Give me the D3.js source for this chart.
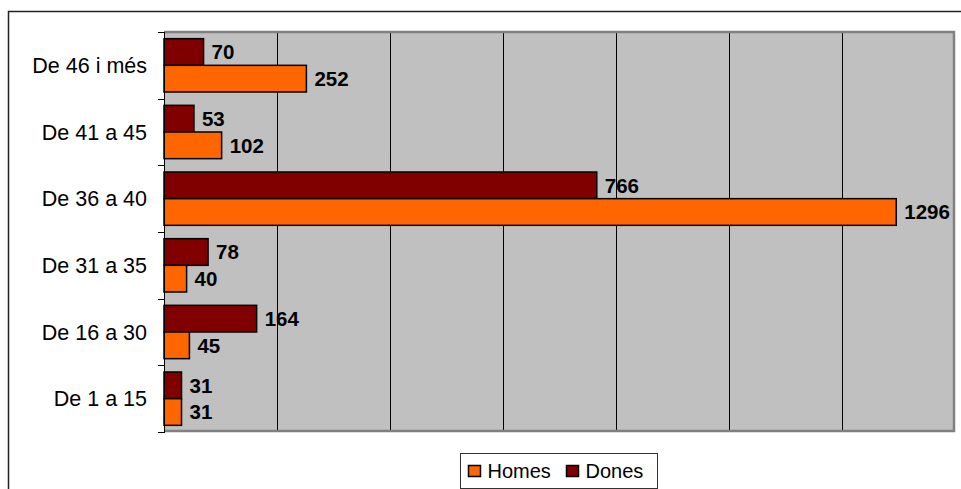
<!DOCTYPE html>
<html>
<head>
<meta charset="utf-8">
<script src="https://cdn.jsdelivr.net/npm/d3@7"></script>
<style>
  body { margin: 0; background: #fff; }
  svg { display: block; font-family: 'Liberation Sans', Arial, sans-serif; }
</style>
</head>
<body>
<svg class="chart"></svg>
<script>
// Age ranges, top to bottom as in the chart
const categories = ['De 46 i més', 'De 41 a 45', 'De 36 a 40', 'De 31 a 35', 'De 16 a 30', 'De 1 a 15'];
const dones = [70, 53, 766, 78, 164, 31];
const homes = [252, 102, 1296, 40, 45, 31];
const series = ['Dones', 'Homes'];
const colors = { Homes: '#ff6600', Dones: '#800000' };
const xTicks = [200, 400, 600, 800, 1000, 1200];

const svgWidth = 961;
const svgHeight = 489;
const margin = { top: 32, left: 164, right: 6, bottom: 57 };
const chartWidth = svgWidth - margin.left - margin.right;
const chartHeight = svgHeight - margin.top - margin.bottom;

const svg = d3.select('.chart')
  .attr('width', svgWidth)
  .attr('height', svgHeight);

// Outer chart frame (cut off on the right and bottom)
svg.append('path')
  .attr('d', 'M8.5,489 V11.5 H961')
  .attr('fill', 'none')
  .attr('stroke', '#222')
  .attr('stroke-width', 1.5);

const chart = svg.append('g')
  .attr('transform', 'translate(' + margin.left + ',' + margin.top + ')');

// Scales
const yScale = d3.scaleBand()
  .domain(categories)
  .range([0, chartHeight])
  .paddingInner(0.2)
  .paddingOuter(0.1);

const ySub = d3.scaleBand()
  .domain(series)
  .range([0, yScale.bandwidth()]);

const xScale = d3.scaleLinear()
  .domain([0, 1400])
  .range([0, chartWidth]);

// Plot area background
chart.append('rect')
  .attr('width', chartWidth)
  .attr('height', chartHeight)
  .attr('fill', '#c0c0c0');

// Vertical gridlines
chart.selectAll('line.grid')
  .data(xTicks)
  .enter()
  .append('line')
  .attr('class', 'grid')
  .attr('x1', d => Math.round(xScale(d)) + 0.5)
  .attr('x2', d => Math.round(xScale(d)) + 0.5)
  .attr('y1', 0)
  .attr('y2', chartHeight)
  .attr('stroke', '#000')
  .attr('stroke-width', 1);

// Grey border on top, right and bottom
chart.append('path')
  .attr('d', `M0,0 H${chartWidth - 1} V${chartHeight - 1} H0`)
  .attr('fill', 'none')
  .attr('stroke', '#808080')
  .attr('stroke-width', 2.5);

// Bars
const rows = categories.map((c, i) => ({ cat: c, Dones: dones[i], Homes: homes[i] }));

const groups = chart.selectAll('g.cat')
  .data(rows)
  .enter()
  .append('g')
  .attr('class', 'cat')
  .attr('transform', d => 'translate(0,' + yScale(d.cat) + ')');

groups.selectAll('rect')
  .data(d => series.map(s => ({ key: s, value: d[s] })))
  .enter()
  .append('rect')
  .attr('x', 0)
  .attr('y', d => ySub(d.key))
  .attr('width', d => xScale(d.value))
  .attr('height', ySub.bandwidth())
  .attr('fill', d => colors[d.key])
  .attr('stroke', '#000')
  .attr('stroke-width', 1.5);

groups.selectAll('text')
  .data(d => series.map(s => ({ key: s, value: d[s] })))
  .enter()
  .append('text')
  .attr('x', d => xScale(d.value) + 8)
  .attr('y', d => ySub(d.key) + ySub.bandwidth() / 2)
  .attr('dy', '0.36em')
  .attr('font-size', '20.5px')
  .attr('font-weight', 'bold')
  .attr('fill', '#000')
  .text(d => d.value);

// Left axis with ticks at category boundaries
const yAxis = chart.append('g');
yAxis.append('line')
  .attr('x1', 0.5).attr('x2', 0.5)
  .attr('y1', 0).attr('y2', chartHeight + 1)
  .attr('stroke', '#000');

yAxis.selectAll('line.tick')
  .data(d3.range(categories.length + 1))
  .enter()
  .append('line')
  .attr('class', 'tick')
  .attr('x1', -6).attr('x2', 0)
  .attr('y1', i => Math.round(i * yScale.step()) + 0.5)
  .attr('y2', i => Math.round(i * yScale.step()) + 0.5)
  .attr('stroke', '#000');

yAxis.selectAll('text')
  .data(categories)
  .enter()
  .append('text')
  .attr('x', -17)
  .attr('y', d => yScale(d) + yScale.bandwidth() / 2)
  .attr('dy', '0.36em')
  .attr('text-anchor', 'end')
  .attr('font-size', '21.5px')
  .attr('fill', '#000')
  .text(d => d);

// Legend
const legend = svg.append('g')
  .attr('transform', 'translate(460.5,453.5)');

legend.append('rect')
  .attr('width', 197)
  .attr('height', 35)
  .attr('fill', '#fff')
  .attr('stroke', '#333')
  .attr('stroke-width', 1);

const legendItems = [
  { key: 'Homes', x: 8 },
  { key: 'Dones', x: 106 }
];

legendItems.forEach(item => {
  legend.append('rect')
    .attr('x', item.x)
    .attr('y', 12)
    .attr('width', 12)
    .attr('height', 11)
    .attr('fill', colors[item.key])
    .attr('stroke', '#000')
    .attr('stroke-width', 1.5);

  legend.append('text')
    .attr('x', item.x + 19)
    .attr('y', 24.5)
    .attr('font-size', '20px')
    .attr('fill', '#000')
    .text(item.key);
});
</script>
</body>
</html>
